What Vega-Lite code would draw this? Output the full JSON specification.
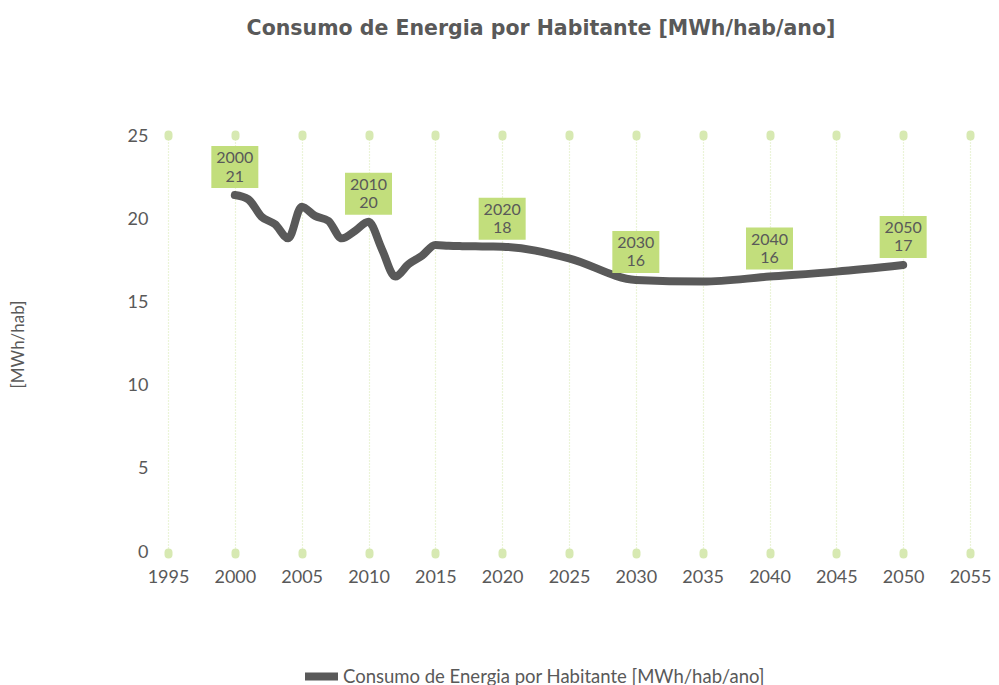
{
  "$schema": "https://vega.github.io/schema/vega-lite/v6.json",
  "width": 802,
  "height": 416,
  "autosize": {"type": "none"},
  "padding": {"left": 168, "top": 136, "right": 29, "bottom": 133},
  "background": "white",
  "title": {
    "text": "Consumo de Energia por Habitante [MWh/hab/ano]",
    "font": "DejaVu Sans",
    "fontSize": 20.5,
    "fontWeight": "bold",
    "color": "#595959",
    "anchor": "middle",
    "dx": -28,
    "offset": 88
  },
  "config": {
    "view": {"stroke": null},
    "font": "Lato",
    "axis": {"labelFont": "Lato", "titleFont": "Lato", "labelColor": "#595959", "titleColor": "#595959"},
    "legend": {"labelFont": "Lato"}
  },
  "datasets": {
    "serie": [
      {"year": 2000, "value": 21.45},
      {"year": 2001, "value": 21.2},
      {"year": 2002, "value": 20.15},
      {"year": 2003, "value": 19.7},
      {"year": 2004, "value": 18.85},
      {"year": 2005, "value": 20.75},
      {"year": 2006, "value": 20.2},
      {"year": 2007, "value": 19.9},
      {"year": 2008, "value": 18.85},
      {"year": 2009, "value": 19.3},
      {"year": 2010, "value": 19.85},
      {"year": 2011, "value": 18.2},
      {"year": 2012, "value": 16.55},
      {"year": 2013, "value": 17.3},
      {"year": 2014, "value": 17.8},
      {"year": 2015, "value": 18.45},
      {"year": 2016, "value": 18.4},
      {"year": 2017, "value": 18.38},
      {"year": 2018, "value": 18.37},
      {"year": 2019, "value": 18.36},
      {"year": 2020, "value": 18.35},
      {"year": 2025, "value": 17.65},
      {"year": 2030, "value": 16.35},
      {"year": 2035, "value": 16.25},
      {"year": 2040, "value": 16.55},
      {"year": 2045, "value": 16.85},
      {"year": 2050, "value": 17.25}
    ],
    "rotulos": [
      {"year": 2000, "value": 21.45, "label": "2000\n21"},
      {"year": 2010, "value": 19.85, "label": "2010\n20"},
      {"year": 2020, "value": 18.35, "label": "2020\n18"},
      {"year": 2030, "value": 16.35, "label": "2030\n16"},
      {"year": 2040, "value": 16.55, "label": "2040\n16"},
      {"year": 2050, "value": 17.25, "label": "2050\n17"}
    ]
  },
  "layer": [
    {
      "data": {"name": "serie"},
      "mark": {"type": "line", "interpolate": "monotone", "strokeWidth": 8, "strokeCap": "round", "strokeJoin": "round"},
      "encoding": {
        "x": {
          "field": "year", "type": "quantitative",
          "scale": {"domain": [1995, 2055], "nice": false, "zero": false},
          "axis": {
            "orient": "bottom",
            "values": [1995, 2000, 2005, 2010, 2015, 2020, 2025, 2030, 2035, 2040, 2045, 2050, 2055],
            "format": "d",
            "title": null,
            "domain": false,
            "grid": true,
            "gridColor": "#D7E9B2",
            "gridDash": [1, 2],
            "gridWidth": 1.2,
            "ticks": true,
            "tickSize": 2,
            "tickWidth": 8,
            "tickCap": "round",
            "tickColor": "#D7E9B2",
            "labelFlush": false,
            "labelOverlap": false,
            "labelBound": false,
            "labelFontSize": 18,
            "labelPadding": 14,
            "labelColor": "#595959"
          }
        },
        "y": {
          "field": "value", "type": "quantitative",
          "scale": {"domain": [0, 25], "nice": false},
          "axis": {
            "values": [0, 5, 10, 15, 20, 25],
            "title": "[MWh/hab]",
            "titleFontSize": 17,
            "titleFontWeight": "normal",
            "titlePadding": 100,
            "domain": false,
            "grid": false,
            "ticks": false,
            "labelFlush": false,
            "labelFontSize": 18,
            "labelPadding": 20,
            "labelColor": "#595959"
          }
        },
        "color": {
          "datum": "Consumo de Energia por Habitante [MWh/hab/ano]",
          "type": "nominal",
          "scale": {"range": ["#595959"]},
          "legend": {
            "title": null,
            "orient": "none",
            "legendX": 133,
            "legendY": 520,
            "symbolType": "stroke",
            "symbolStrokeWidth": 8,
            "symbolSize": 1089,
            "symbolOffset": 0,
            "labelOffset": 1,
            "labelLimit": 0,
            "labelFontSize": 18.5,
            "labelColor": "#595959"
          }
        }
      }
    },
    {
      "data": {"name": "rotulos"},
      "mark": {
        "type": "point",
        "filled": true,
        "shape": "M-1,-0.894L1,-0.894L1,0.894L-1,0.894Z",
        "size": 2209,
        "opacity": 1,
        "color": "#C2DE7C",
        "yOffset": -28
      },
      "encoding": {
        "x": {
          "field": "year", "type": "quantitative",
          "axis": {
            "orient": "top",
            "values": [1995, 2000, 2005, 2010, 2015, 2020, 2025, 2030, 2035, 2040, 2045, 2050, 2055],
            "labels": false,
            "title": null,
            "domain": false,
            "grid": false,
            "ticks": true,
            "tickSize": 2,
            "tickWidth": 8,
            "tickCap": "round",
            "tickColor": "#D7E9B2"
          }
        },
        "y": {"field": "value", "type": "quantitative"}
      }
    },
    {
      "data": {"name": "rotulos"},
      "mark": {
        "type": "text",
        "lineBreak": "\n",
        "fontSize": 16,
        "lineHeight": 18.5,
        "color": "#595959",
        "align": "center",
        "baseline": "middle",
        "yOffset": -37
      },
      "encoding": {
        "x": {"field": "year", "type": "quantitative", "axis": null},
        "y": {"field": "value", "type": "quantitative"},
        "text": {"field": "label"}
      }
    }
  ],
  "resolve": {"axis": {"x": "independent"}}
}
